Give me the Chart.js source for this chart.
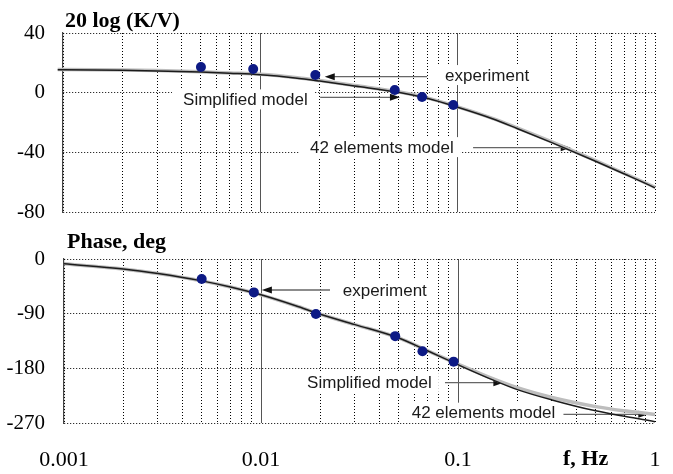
<!DOCTYPE html>
<html>
<head>
<meta charset="utf-8">
<script src="https://cdn.jsdelivr.net/npm/chart.js@4.4.1/dist/chart.umd.min.js"></script>
<style>
  html, body { margin: 0; padding: 0; background: #fff; }
  #wrap { position: relative; width: 673px; height: 474px; }
  canvas { position: absolute; left: 0; }
</style>
</head>
<body>
<div id="wrap">
  <canvas id="gain" width="673" height="230" style="top:0"></canvas>
  <canvas id="phase" width="673" height="244" style="top:230px"></canvas>
</div>
<script>
// ---- data ----
const xTickValues = [0.001, 0.01, 0.1, 1];
const xTickLabels = ['0.001', '0.01', '0.1', '1'];
const xGrid = [
	0.001, 0.002, 0.003, 0.004, 0.005, 0.006, 0.007, 0.008, 0.009,
	0.01, 0.02, 0.03, 0.04, 0.05, 0.06, 0.07, 0.08, 0.09,
	0.1, 0.2, 0.3, 0.4, 0.5, 0.6, 0.7, 0.8, 0.9, 1,
];

// experiment points
const expFreq = [0.005, 0.0092, 0.019, 0.048, 0.066, 0.095];
const expGain = [17.2, 15.9, 11.8, 1.8, -2.9, -8.3];
const expPhase = [-33, -55, -90.5, -127, -152, -169];

// model curves, amplitude
const gainFreq = [0.00094, 0.001, 0.002, 0.003, 0.005, 0.007, 0.01, 0.015, 0.02, 0.03, 0.05, 0.07, 0.1, 0.15, 0.2, 0.3, 0.5, 0.7, 1.0, 1.07];
const gainSimplified = [15.3, 15.3, 15.0, 14.6, 13.8, 13.0, 12.0, 9.9, 7.8, 4.5, 0.3, -3.8, -9.8, -17.5, -24, -33.5, -46, -54.5, -63.8, -65.8];
const gain42 = [15.5, 15.5, 15.2, 14.8, 14.0, 13.2, 12.3, 10.2, 8.1, 4.8, 0.6, -3.5, -9.5, -17.2, -23.6, -33, -45.6, -54.2, -63.5, -65.5];

// model curves, phase
const phaseFreq = [0.001, 0.002, 0.003, 0.005, 0.007, 0.01, 0.015, 0.02, 0.03, 0.05, 0.07, 0.1, 0.15, 0.2, 0.3, 0.5, 0.7, 1.0, 1.07];
const phaseSimplified = [-8, -16.5, -24, -36, -46, -59, -77, -91, -108, -130, -151, -174, -199, -215, -232, -250, -259, -268, -270];
const phase42 = [-8, -16.5, -24, -36, -46, -59, -77, -91, -108, -130, -151, -173, -197, -212, -228, -243, -250, -256, -257];

// annotations (frequency, value)
const gainNotes = [
	{ text: 'experiment', f: 0.0863, v: 11.8 },
	{ text: 'Simplified model', f: 0.00406, v: -4.5 },
	{ text: '42 elements model', f: 0.01787, v: -36.5 },
];
const gainArrows = [
	[0.070, 10.7, 0.0212, 10.7],
	[0.0201, -3.1, 0.051, -3.1],
	[0.1197, -36.9, 0.374, -36.9],
];
const phaseNotes = [
	{ text: 'experiment', f: 0.026, v: -51 },
	{ text: 'Simplified model', f: 0.01714, v: -203.6 },
	{ text: '42 elements model', f: 0.0582, v: -253 },
];
const phaseArrows = [
	[0.0224, -51, 0.0101, -51],
	[0.0859, -203.6, 0.170, -203.6],
	[0.343, -255.8, 0.925, -255.8],
];

const SERIF = '"Liberation Serif", "Times New Roman", serif';
const SANS = '"Liberation Sans", Arial, sans-serif';

const toPoints = (xs, ys) => xs.map((x, i) => ({ x: x, y: ys[i] }));
const isDecade = (v) => Math.abs(Math.log10(v) - Math.round(Math.log10(v))) < 1e-6;
const isInnerDecade = (c) => c.tick && isDecade(c.tick.value) && c.tick.value > 0.0011 && c.tick.value < 0.9;
// убираем запас под подписи, чтобы поле диаграммы было точно заданным
const noPadding = (s) => {
	s.paddingTop = 0;
	s.paddingBottom = 0;
	s.paddingLeft = 0;
	s.paddingRight = 0;
};

// плагин: подписи, стрелки и заголовки
function notesPlugin(notes, arrows, texts) {
	return {
		id: 'notes',
		beforeDatasetsDraw(chart) {
			const { ctx, scales: { x, y } } = chart;
			ctx.save();
			ctx.font = '17px ' + SANS;
			ctx.textBaseline = 'middle';
			notes.forEach((n) => {
				const px = x.getPixelForValue(n.f);
				const py = y.getPixelForValue(n.v);
				const w = ctx.measureText(n.text).width;
				ctx.fillStyle = '#fff';
				ctx.fillRect(px - 11, py - 10, w + 18, 20);
				ctx.fillStyle = '#1a1a1a';
				ctx.fillText(n.text, px, py + 1);
			});
			arrows.forEach((a) => {
				const x1 = x.getPixelForValue(a[0]);
				const y1 = y.getPixelForValue(a[1]);
				const x2 = x.getPixelForValue(a[2]);
				const y2 = y.getPixelForValue(a[3]);
				const dir = x2 > x1 ? 1 : -1;
				ctx.strokeStyle = '#666';
				ctx.lineWidth = 1.3;
				ctx.beginPath();
				ctx.moveTo(x1, y1);
				ctx.lineTo(x2 - dir * 8, y2);
				ctx.stroke();
				ctx.fillStyle = '#111';
				ctx.beginPath();
				ctx.moveTo(x2, y2);
				ctx.lineTo(x2 - dir * 10, y2 - 3.5);
				ctx.lineTo(x2 - dir * 10, y2 + 3.5);
				ctx.closePath();
				ctx.fill();
			});
			ctx.restore();
		},
		afterDraw(chart) {
			const ctx = chart.ctx;
			ctx.save();
			ctx.fillStyle = '#000';
			ctx.textBaseline = 'alphabetic';
			ctx.font = 'bold 22px ' + SERIF;
			texts.forEach((t) => ctx.fillText(t.text, t.x, t.y));
			ctx.restore();
		},
	};
}

function makeChart(canvas, cfg) {
	return new Chart(canvas, {
		type: 'scatter',
		data: {
			datasets: [
				{
					data: toPoints(expFreq, cfg.exp),
					pointRadius: 5,
					pointBorderWidth: 0,
					backgroundColor: '#0d1a85',
					showLine: false,
				},
				{
					data: toPoints(cfg.freq, cfg.simplified),
					showLine: true,
					borderColor: '#1c1c1c',
					borderWidth: 1.5,
					pointRadius: 0,
					cubicInterpolationMode: 'monotone',
					clip: false,
				},
				{
					data: toPoints(cfg.freq, cfg.el42),
					showLine: true,
					borderColor: '#bdbdbd',
					borderWidth: 3.5,
					pointRadius: 0,
					cubicInterpolationMode: 'monotone',
					clip: false,
				},
			],
		},
		options: {
			responsive: false,
			animation: false,
			layout: { padding: { top: cfg.padTop, right: 18, left: 0, bottom: 0 } },
			plugins: { legend: { display: false }, tooltip: { enabled: false } },
			scales: {
				x: {
					type: 'logarithmic',
					min: 0.001,
					max: 1,
					afterBuildTicks: (s) => {
						s.ticks = xGrid.map((v) => ({ value: v }));
					},
					afterFit: (s) => {
						s.height = cfg.xHeight;
						noPadding(s);
					},
					border: {
						display: false,
						dash: (c) => (isInnerDecade(c) ? [] : [1, 2]),
					},
					grid: {
						drawTicks: false,
						color: (c) => (isInnerDecade(c) ? '#555' : '#000'),
					},
					ticks: {
						display: cfg.showX,
						autoSkip: false,
						maxRotation: 0,
						padding: 24,
						color: '#000',
						font: { family: SERIF, size: 22 },
						callback: (value) => {
							const i = xTickValues.findIndex((t) => Math.abs(Math.log10(value / t)) < 1e-6);
							return i >= 0 ? xTickLabels[i] : '';
						},
					},
				},
				y: {
					min: cfg.yMin,
					max: cfg.yMax,
					afterFit: (s) => {
						s.width = cfg.yWidth;
						noPadding(s);
					},
					border: { display: true, color: '#444', width: 1.2, dash: [1, 2] },
					grid: { drawTicks: false, color: '#000' },
					ticks: {
						stepSize: cfg.yStep,
						padding: cfg.yWidth - 45,
						color: '#000',
						font: { family: SERIF, size: 21 },
					},
				},
			},
		},
		plugins: [notesPlugin(cfg.notes, cfg.arrows, cfg.texts)],
	});
}

makeChart(document.getElementById('gain'), {
	exp: expGain,
	freq: gainFreq,
	simplified: gainSimplified,
	el42: gain42,
	yMin: -80,
	yMax: 40,
	yStep: 40,
	yWidth: 63,
	padTop: 33,
	xHeight: 18,
	showX: false,
	notes: gainNotes,
	arrows: gainArrows,
	texts: [{ text: '20 log (K/V)', x: 65, y: 27 }],
});

makeChart(document.getElementById('phase'), {
	exp: expPhase,
	freq: phaseFreq,
	simplified: phaseSimplified,
	el42: phase42,
	yMin: -270,
	yMax: 0,
	yStep: 90,
	yWidth: 64,
	padTop: 29,
	xHeight: 51,
	showX: true,
	notes: phaseNotes,
	arrows: phaseArrows,
	texts: [
		{ text: 'Phase, deg', x: 67, y: 18 },
		{ text: 'f, Hz', x: 563, y: 235 },
	],
});
</script>
</body>
</html>
